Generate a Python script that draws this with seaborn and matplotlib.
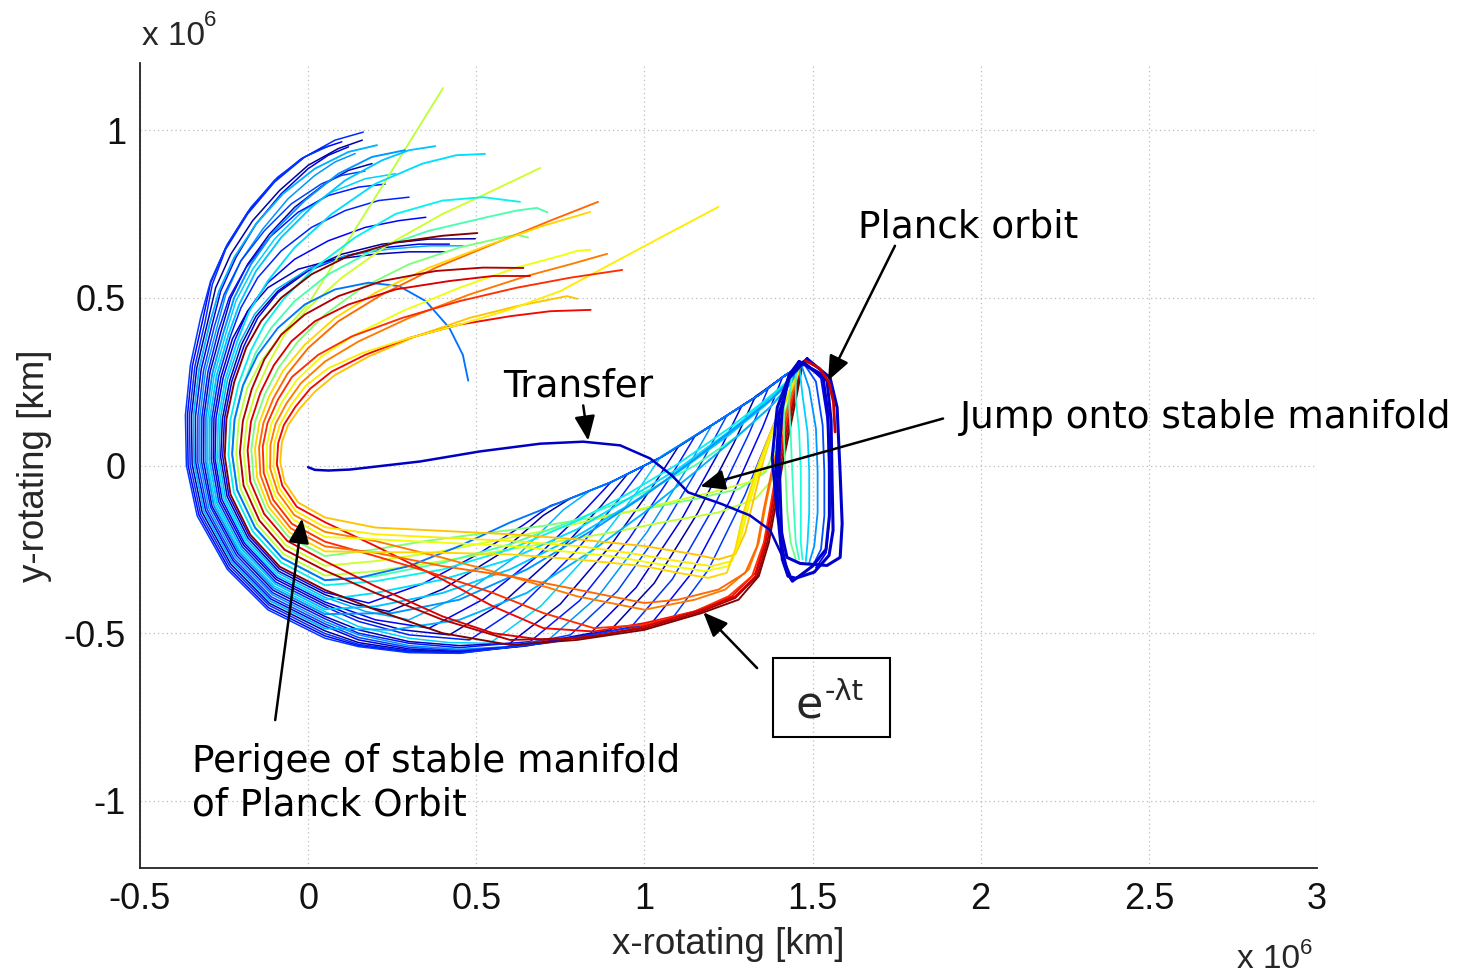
import matplotlib
matplotlib.use("Agg")
import matplotlib.pyplot as plt
from matplotlib.patches import Rectangle
import pandas as pd
import seaborn as sns

# ------------------------------------------------------------------
# Stable-manifold trajectories of the Planck orbit (rotating frame,
# coordinates in units of 10^6 km).  Each path runs from the orbit,
# along the manifold tube, around perigee and out to its final point.
# ------------------------------------------------------------------

# outer (blue) trajectories that cross the tube steeply
blue_k00 = [(1.47,0.30),(1.42,0.27),(1.34,0.21),(1.2,0.12),(1.05,0.025),(0.9,-0.05),(0.75,-0.11),(0.72,-0.12),(0.639,-0.178),(0.504,-0.265),(0.342,-0.352),(0.18,-0.41),(0.05,-0.378),(-0.086,-0.308),(-0.175,-0.211),(-0.236,-0.089),(-0.254,0.027),(-0.249,0.139),(-0.227,0.251),(-0.191,0.356),(-0.15,0.44),(-0.09,0.515),(0.0,0.58),(0.11,0.625),(0.23,0.65),(0.33,0.66),(0.42,0.66)]
blue_k01 = [(1.47,0.30),(1.42,0.27),(1.34,0.21),(1.2,0.12),(1.05,0.025),(0.9,-0.05),(0.78,-0.098),(0.699,-0.149),(0.564,-0.267),(0.402,-0.368),(0.24,-0.435),(0.14,-0.415),(0.05,-0.385),(-0.088,-0.315),(-0.179,-0.216),(-0.241,-0.092),(-0.26,0.025),(-0.255,0.139),(-0.233,0.253),(-0.198,0.361),(-0.155,0.445),(-0.09,0.52),(0.0,0.585),(0.10,0.63),(0.22,0.66),(0.36,0.675),(0.497,0.676)]
blue_k02 = [(1.47,0.30),(1.42,0.27),(1.34,0.21),(1.2,0.12),(1.05,0.025),(0.9,-0.05),(0.84,-0.074),(0.759,-0.132),(0.624,-0.267),(0.462,-0.383),(0.30,-0.46),(0.17,-0.435),(0.05,-0.393),(-0.089,-0.321),(-0.182,-0.222),(-0.246,-0.096),(-0.265,0.024),(-0.261,0.14),(-0.24,0.256),(-0.204,0.365),(-0.16,0.45),(-0.095,0.525),(0.0,0.585),(0.11,0.625),(0.24,0.645),(0.36,0.655),(0.46,0.655)]
blue_k03 = [(1.47,0.30),(1.42,0.27),(1.34,0.21),(1.2,0.12),(1.05,0.025),(0.90,-0.05),(0.819,-0.137),(0.684,-0.268),(0.522,-0.398),(0.36,-0.485),(0.2,-0.46),(0.05,-0.407),(-0.093,-0.334),(-0.189,-0.232),(-0.256,-0.102),(-0.277,0.021),(-0.274,0.141),(-0.253,0.261),(-0.218,0.374),(-0.18,0.46),(-0.12,0.545),(-0.04,0.615),(0.06,0.67),(0.17,0.71),(0.27,0.73),(0.35,0.74)]
blue_k04 = [(1.47,0.30),(1.42,0.27),(1.34,0.21),(1.2,0.12),(1.05,0.025),(0.95,-0.025),(0.871,-0.121),(0.738,-0.265),(0.579,-0.409),(0.42,-0.505),(0.28,-0.49),(0.15,-0.455),(0.05,-0.414),(-0.095,-0.34),(-0.192,-0.237),(-0.261,-0.105),(-0.282,0.02),(-0.28,0.142),(-0.259,0.264),(-0.225,0.378),(-0.18,0.46),(-0.12,0.53),(-0.03,0.585),(0.08,0.615),(0.20,0.63),(0.30,0.637),(0.407,0.637)]
blue_k05 = [(1.47,0.30),(1.42,0.27),(1.34,0.21),(1.2,0.12),(1.05,0.025),(1.0,0.0),(0.922,-0.104),(0.792,-0.26),(0.636,-0.416),(0.48,-0.52),(0.3,-0.505),(0.15,-0.465),(0.05,-0.421),(-0.097,-0.347),(-0.196,-0.242),(-0.266,-0.108),(-0.288,0.018),(-0.286,0.142),(-0.266,0.266),(-0.232,0.383),(-0.20,0.47),(-0.15,0.56),(-0.08,0.64),(0.01,0.71),(0.11,0.76),(0.21,0.79),(0.30,0.80)]
blue_k06 = [(1.47,0.30),(1.42,0.27),(1.34,0.21),(1.2,0.12),(1.05,0.028),(0.974,-0.084),(0.846,-0.251),(0.693,-0.418),(0.54,-0.53),(0.42,-0.528),(0.3,-0.515),(0.15,-0.48),(0.05,-0.436),(-0.10,-0.36),(-0.203,-0.253),(-0.276,-0.115),(-0.30,0.015),(-0.298,0.143),(-0.279,0.271),(-0.245,0.392),(-0.215,0.49),(-0.165,0.585),(-0.10,0.675),(-0.02,0.755),(0.07,0.815),(0.17,0.855),(0.26,0.87)]
blue_k07 = [(1.47,0.30),(1.42,0.27),(1.34,0.21),(1.2,0.12),(1.10,0.055),(1.025,-0.062),(0.90,-0.238),(0.75,-0.413),(0.60,-0.53),(0.45,-0.537),(0.3,-0.525),(0.15,-0.49),(0.05,-0.45),(-0.104,-0.372),(-0.209,-0.263),(-0.286,-0.121),(-0.311,0.013),(-0.31,0.145),(-0.292,0.277),(-0.259,0.40),(-0.23,0.50),(-0.18,0.60),(-0.115,0.69),(-0.04,0.77),(0.05,0.84),(0.12,0.88),(0.19,0.90)]
blue_k08 = [(1.47,0.30),(1.42,0.27),(1.34,0.21),(1.2,0.12),(1.15,0.087),(1.077,-0.035),(0.954,-0.219),(0.807,-0.403),(0.66,-0.525),(0.45,-0.543),(0.3,-0.53),(0.15,-0.50),(0.05,-0.457),(-0.106,-0.379),(-0.213,-0.268),(-0.29,-0.124),(-0.317,0.011),(-0.316,0.145),(-0.298,0.279),(-0.266,0.405),(-0.235,0.50),(-0.185,0.59),(-0.115,0.68),(-0.03,0.755),(0.06,0.805),(0.15,0.83),(0.229,0.839)]
blue_k09 = [(1.47,0.30),(1.42,0.27),(1.34,0.21),(1.20,0.12),(1.128,-0.007),(1.008,-0.198),(0.864,-0.388),(0.72,-0.515),(0.6,-0.54),(0.45,-0.548),(0.3,-0.537),(0.15,-0.505),(0.05,-0.465),(-0.107,-0.385),(-0.216,-0.274),(-0.295,-0.128),(-0.322,0.01),(-0.322,0.146),(-0.305,0.282),(-0.272,0.409),(-0.245,0.51),(-0.20,0.61),(-0.135,0.705),(-0.06,0.795),(0.02,0.865),(0.08,0.905),(0.14,0.93)]
blue_k10 = [(1.47,0.30),(1.42,0.27),(1.34,0.21),(1.245,0.149),(1.175,0.018),(1.059,-0.178),(0.92,-0.374),(0.78,-0.505),(0.6,-0.54),(0.45,-0.552),(0.3,-0.542),(0.15,-0.513),(0.05,-0.472),(-0.109,-0.392),(-0.22,-0.279),(-0.30,-0.131),(-0.328,0.008),(-0.328,0.146),(-0.311,0.284),(-0.279,0.414),(-0.25,0.51),(-0.20,0.61),(-0.13,0.70),(-0.05,0.78),(0.04,0.84),(0.10,0.865),(0.169,0.878)]
blue_k11 = [(1.47,0.30),(1.42,0.27),(1.34,0.21),(1.29,0.179),(1.223,0.043),(1.11,-0.161),(0.975,-0.364),(0.84,-0.50),(0.62,-0.54),(0.45,-0.555),(0.3,-0.547),(0.15,-0.52),(0.05,-0.479),(-0.111,-0.398),(-0.223,-0.284),(-0.305,-0.134),(-0.334,0.007),(-0.335,0.147),(-0.318,0.287),(-0.286,0.418),(-0.26,0.52),(-0.215,0.62),(-0.155,0.72),(-0.08,0.81),(0.0,0.885),(0.06,0.925),(0.12,0.95)]
blue_k12 = [(1.47,0.30),(1.42,0.27),(1.33,0.206),(1.266,0.067),(1.158,-0.142),(1.029,-0.351),(0.90,-0.49),(0.65,-0.538),(0.45,-0.557),(0.3,-0.551),(0.15,-0.528),(0.05,-0.493),(-0.115,-0.411),(-0.23,-0.294),(-0.315,-0.14),(-0.345,0.004),(-0.347,0.148),(-0.331,0.292),(-0.299,0.427),(-0.275,0.53),(-0.23,0.63),(-0.165,0.73),(-0.085,0.82),(0.0,0.895),(0.09,0.945),(0.161,0.97)]
blue_k13 = [(1.47,0.30),(1.42,0.27),(1.37,0.234),(1.309,0.091),(1.206,-0.124),(1.083,-0.339),(0.96,-0.482),(0.68,-0.532),(0.45,-0.558),(0.3,-0.553),(0.15,-0.533),(0.05,-0.501),(-0.116,-0.417),(-0.233,-0.30),(-0.32,-0.144),(-0.351,0.003),(-0.353,0.149),(-0.337,0.295),(-0.306,0.431),(-0.285,0.54),(-0.245,0.645),(-0.18,0.75),(-0.10,0.845),(-0.01,0.92),(0.08,0.97),(0.164,0.994)]
blue_k14 = [(1.47,0.30),(1.41,0.262),(1.352,0.115),(1.254,-0.105),(1.137,-0.325),(1.02,-0.472),(0.70,-0.53),(0.45,-0.559),(0.3,-0.556),(0.15,-0.537),(0.05,-0.508),(-0.118,-0.424),(-0.237,-0.305),(-0.325,-0.147),(-0.357,0.001),(-0.359,0.15),(-0.344,0.298),(-0.313,0.436),(-0.29,0.545),(-0.245,0.65),(-0.18,0.755),(-0.10,0.85),(-0.02,0.915),(0.04,0.945),(0.10,0.965)]
blue_k15 = [(1.47,0.30),(1.445,0.285),(1.39,0.136),(1.299,-0.088),(1.19,-0.311),(1.08,-0.46),(0.72,-0.528),(0.45,-0.56),(0.3,-0.558),(0.15,-0.54),(0.05,-0.515),(-0.12,-0.43),(-0.24,-0.31),(-0.33,-0.15),(-0.362,0.0),(-0.365,0.15),(-0.35,0.30),(-0.32,0.44),(-0.29,0.55),(-0.24,0.66),(-0.17,0.77),(-0.09,0.86),(-0.01,0.92),(0.06,0.952)]
blue_phase = [0.10, 0.03, 0.30, 0.12, 0.05, 0.16, 0.33, 0.05, 0.15, 0.27, 0.19, 0.08, 0.03, 0.17, 0.11, 0.18]

# cyan / green trajectories that climb towards the upper edge of the tube
cool_c08 = [(1.47,0.30),(1.43,0.20),(1.40,0.08),(1.36,-0.02),(1.28,-0.07),(1.15,-0.10),(1.0,-0.13),(0.85,-0.155),(0.7,-0.18),(0.5,-0.205),(0.35,-0.225),(0.2,-0.25),(0.05,-0.27),(-0.059,-0.212),(-0.124,-0.133),(-0.162,-0.041),(-0.169,0.048),(-0.158,0.13),(-0.129,0.212),(-0.089,0.29),(-0.03,0.37),(0.05,0.45),(0.16,0.53),(0.30,0.60),(0.45,0.65),(0.58,0.68),(0.62,0.688),(0.654,0.68)]
cool_c10 = [(1.47,0.30),(1.435,0.21),(1.41,0.10),(1.38,0.0),(1.31,-0.05),(1.2,-0.08),(1.05,-0.115),(0.9,-0.15),(0.75,-0.185),(0.55,-0.225),(0.4,-0.255),(0.2,-0.285),(0.05,-0.299),(-0.066,-0.238),(-0.138,-0.154),(-0.182,-0.054),(-0.192,0.042),(-0.182,0.132),(-0.155,0.222),(-0.116,0.308),(-0.07,0.39),(0.0,0.47),(0.10,0.56),(0.24,0.66),(0.40,0.75),(0.55,0.82),(0.69,0.887)]
cool_c12 = [(1.47,0.30),(1.44,0.21),(1.415,0.09),(1.39,-0.03),(1.33,-0.10),(1.22,-0.14),(1.05,-0.17),(0.9,-0.2),(0.75,-0.225),(0.6,-0.25),(0.4,-0.285),(0.2,-0.315),(0.05,-0.328),(-0.073,-0.264),(-0.152,-0.175),(-0.202,-0.067),(-0.214,0.036),(-0.206,0.134),(-0.181,0.232),(-0.14,0.31),(-0.08,0.39),(0.006,0.49),(0.2,0.80),(0.401,1.125)]
cool_c13 = [(1.47,0.30),(1.43,0.24),(1.37,0.17),(1.28,0.09),(1.15,0.0),(1.0,-0.08),(0.8,-0.16),(0.6,-0.235),(0.4,-0.29),(0.2,-0.33),(0.05,-0.342),(-0.077,-0.276),(-0.158,-0.185),(-0.211,-0.073),(-0.226,0.034),(-0.219,0.136),(-0.194,0.238),(-0.157,0.334),(-0.11,0.41),(-0.04,0.49),(0.06,0.57),(0.20,0.645),(0.36,0.70),(0.53,0.74),(0.62,0.76),(0.68,0.768),(0.711,0.755)]
cool_c14 = [(1.47,0.30),(1.43,0.255),(1.36,0.195),(1.25,0.11),(1.1,0.005),(0.95,-0.085),(0.8,-0.165),(0.6,-0.25),(0.4,-0.31),(0.2,-0.345),(0.05,-0.357),(-0.08,-0.289),(-0.165,-0.196),(-0.221,-0.08),(-0.237,0.031),(-0.231,0.137),(-0.207,0.243),(-0.17,0.343),(-0.13,0.42),(-0.07,0.50),(0.02,0.59),(0.14,0.68),(0.26,0.75),(0.40,0.79),(0.52,0.80),(0.63,0.786)]
cool_c17 = [(1.47,0.30),(1.43,0.25),(1.36,0.19),(1.25,0.10),(1.1,-0.01),(0.95,-0.10),(0.8,-0.19),(0.6,-0.28),(0.4,-0.34),(0.2,-0.38),(0.05,-0.40),(-0.091,-0.328),(-0.186,-0.227),(-0.251,-0.099),(-0.271,0.022),(-0.267,0.14),(-0.246,0.258),(-0.211,0.37),(-0.175,0.46),(-0.12,0.55),(-0.04,0.65),(0.07,0.75),(0.20,0.84),(0.34,0.90),(0.44,0.925),(0.526,0.929)]
cool_c19 = [(1.47,0.30),(1.43,0.245),(1.36,0.18),(1.25,0.09),(1.1,-0.02),(0.95,-0.12),(0.8,-0.21),(0.6,-0.31),(0.4,-0.38),(0.2,-0.42),(0.05,-0.429),(-0.098,-0.353),(-0.199,-0.248),(-0.271,-0.112),(-0.294,0.017),(-0.292,0.143),(-0.272,0.269),(-0.238,0.387),(-0.205,0.48),(-0.155,0.58),(-0.08,0.68),(0.01,0.77),(0.11,0.85),(0.22,0.91),(0.30,0.94),(0.378,0.952)]
cool_c20 = [(1.47,0.30),(1.44,0.26),(1.38,0.20),(1.28,0.12),(1.15,0.02),(1.0,-0.09),(0.85,-0.19),(0.65,-0.31),(0.45,-0.40),(0.25,-0.44),(0.05,-0.443),(-0.102,-0.366),(-0.206,-0.258),(-0.281,-0.118),(-0.305,0.014),(-0.304,0.144),(-0.285,0.274),(-0.252,0.396),(-0.22,0.50),(-0.17,0.60),(-0.10,0.70),(-0.01,0.79),(0.09,0.87),(0.19,0.92),(0.288,0.94)]
cool_c23 = [(1.47,0.30),(1.44,0.25),(1.38,0.18),(1.28,0.09),(1.15,-0.02),(1.0,-0.14),(0.85,-0.25),(0.65,-0.38),(0.45,-0.46),(0.25,-0.49),(0.05,-0.486),(-0.113,-0.404),(-0.226,-0.289),(-0.31,-0.137),(-0.339,0.006),(-0.341,0.148),(-0.324,0.29),(-0.293,0.422),(-0.265,0.52),(-0.22,0.62),(-0.155,0.72),(-0.075,0.81),(0.02,0.885),(0.12,0.935),(0.205,0.955)]
cool_arc = [(1.47,0.30),(1.42,0.27),(1.34,0.21),(1.2,0.12),(1.05,0.025),(0.9,-0.05),(0.75,-0.11),(0.6,-0.17),(0.45,-0.24),(0.3,-0.30),(0.15,-0.335),(0.05,-0.342),(-0.077,-0.276),(-0.158,-0.185),(-0.211,-0.073),(-0.226,0.034),(-0.219,0.136),(-0.194,0.238),(-0.15,0.33),(-0.09,0.41),(-0.01,0.48),(0.08,0.525),(0.18,0.545),(0.27,0.535),(0.35,0.49),(0.42,0.41),(0.46,0.33),(0.476,0.253)]
cool_phase = [0.50, 0.60, 0.58, 0.44, 0.36, 0.34, 0.32, 0.27, 0.30, 0.24]

# yellow / orange / red trajectories that drop to the lower edge of the tube
warm_w00 = [(1.47,0.30),(1.43,0.22),(1.39,0.13),(1.355,0.02),(1.325,-0.10),(1.30,-0.20),(1.27,-0.265),(1.22,-0.28),(1.15,-0.265),(1.0,-0.24),(0.8,-0.22),(0.6,-0.205),(0.4,-0.195),(0.2,-0.185),(0.05,-0.155),(-0.03,-0.11),(-0.07,-0.05),(-0.083,0.01),(-0.078,0.07),(-0.06,0.12),(-0.025,0.17),(0.02,0.22),(0.08,0.27),(0.18,0.325),(0.32,0.385),(0.48,0.44),(0.62,0.475),(0.72,0.495),(0.77,0.505),(0.80,0.497)]
warm_w01 = [(1.47,0.30),(1.445,0.22),(1.42,0.13),(1.40,0.02),(1.38,-0.10),(1.36,-0.22),(1.33,-0.32),(1.26,-0.39),(1.15,-0.435),(1.0,-0.47),(0.85,-0.495),(0.7,-0.485),(0.55,-0.42),(0.4,-0.34),(0.2,-0.24),(0.05,-0.169),(-0.034,-0.123),(-0.077,-0.06),(-0.093,0.004),(-0.089,0.067),(-0.072,0.121),(-0.038,0.175),(0.006,0.229),(0.07,0.28),(0.17,0.33),(0.30,0.38),(0.45,0.42),(0.60,0.445),(0.72,0.46),(0.84,0.464)]
warm_w02 = [(1.47,0.30),(1.43,0.22),(1.385,0.12),(1.345,0.0),(1.31,-0.12),(1.285,-0.22),(1.26,-0.285),(1.20,-0.30),(1.1,-0.285),(0.95,-0.26),(0.8,-0.24),(0.6,-0.225),(0.4,-0.215),(0.2,-0.205),(0.05,-0.184),(-0.037,-0.136),(-0.084,-0.071),(-0.103,-0.003),(-0.101,0.064),(-0.084,0.122),(-0.051,0.18),(-0.007,0.238),(0.06,0.29),(0.16,0.335),(0.30,0.38),(0.45,0.42),(0.60,0.465),(0.75,0.52),(1.0,0.654),(1.22,0.771)]
warm_w03 = [(1.47,0.30),(1.44,0.22),(1.41,0.12),(1.385,0.0),(1.36,-0.12),(1.34,-0.23),(1.31,-0.31),(1.24,-0.37),(1.15,-0.40),(1.0,-0.43),(0.8,-0.39),(0.6,-0.33),(0.4,-0.275),(0.2,-0.225),(0.05,-0.198),(-0.041,-0.148),(-0.09,-0.081),(-0.113,-0.009),(-0.112,0.062),(-0.097,0.124),(-0.064,0.186),(-0.021,0.246),(0.05,0.31),(0.15,0.37),(0.30,0.44),(0.48,0.51),(0.65,0.565),(0.78,0.60),(0.889,0.631)]
warm_w04 = [(1.47,0.30),(1.43,0.21),(1.38,0.10),(1.335,-0.02),(1.30,-0.14),(1.275,-0.24),(1.25,-0.30),(1.18,-0.315),(1.05,-0.295),(0.9,-0.27),(0.75,-0.255),(0.6,-0.24),(0.4,-0.23),(0.2,-0.22),(0.05,-0.213),(-0.044,-0.161),(-0.097,-0.092),(-0.123,-0.016),(-0.123,0.059),(-0.109,0.125),(-0.077,0.191),(-0.034,0.255),(0.04,0.325),(0.14,0.39),(0.28,0.46),(0.45,0.53),(0.62,0.59),(0.75,0.625),(0.80,0.64),(0.839,0.643)]
warm_w05 = [(1.47,0.30),(1.445,0.22),(1.42,0.12),(1.395,0.0),(1.375,-0.12),(1.355,-0.23),(1.32,-0.33),(1.25,-0.39),(1.15,-0.435),(1.0,-0.475),(0.85,-0.485),(0.7,-0.44),(0.55,-0.38),(0.4,-0.33),(0.2,-0.27),(0.05,-0.227),(-0.048,-0.174),(-0.104,-0.102),(-0.132,-0.022),(-0.135,0.056),(-0.121,0.126),(-0.09,0.196),(-0.048,0.264),(0.03,0.33),(0.13,0.385),(0.28,0.44),(0.45,0.49),(0.62,0.53),(0.78,0.56),(0.934,0.583)]
warm_w06 = [(1.47,0.30),(1.44,0.22),(1.41,0.11),(1.38,-0.01),(1.355,-0.13),(1.335,-0.24),(1.30,-0.32),(1.22,-0.37),(1.1,-0.40),(1.0,-0.41),(0.8,-0.37),(0.6,-0.33),(0.4,-0.30),(0.2,-0.26),(0.05,-0.241),(-0.052,-0.187),(-0.111,-0.112),(-0.142,-0.028),(-0.146,0.053),(-0.133,0.127),(-0.103,0.201),(-0.062,0.273),(0.0,0.35),(0.09,0.43),(0.22,0.51),(0.38,0.59),(0.55,0.66),(0.72,0.73),(0.862,0.786)]
warm_w07 = [(1.47,0.30),(1.43,0.21),(1.375,0.10),(1.33,-0.02),(1.295,-0.14),(1.27,-0.25),(1.245,-0.32),(1.19,-0.335),(1.1,-0.32),(1.0,-0.30),(0.8,-0.28),(0.6,-0.265),(0.4,-0.26),(0.2,-0.258),(0.05,-0.256),(-0.055,-0.20),(-0.118,-0.123),(-0.152,-0.035),(-0.158,0.05),(-0.145,0.128),(-0.116,0.206),(-0.075,0.282),(-0.01,0.36),(0.08,0.44),(0.20,0.515),(0.36,0.59),(0.53,0.655),(0.70,0.715),(0.839,0.756)]
warm_w09 = [(1.47,0.30),(1.45,0.22),(1.425,0.12),(1.40,0.0),(1.38,-0.12),(1.36,-0.23),(1.33,-0.33),(1.27,-0.39),(1.17,-0.43),(1.0,-0.48),(0.85,-0.51),(0.7,-0.52),(0.55,-0.50),(0.4,-0.45),(0.2,-0.36),(0.05,-0.285),(-0.062,-0.225),(-0.131,-0.144),(-0.172,-0.048),(-0.18,0.045),(-0.17,0.131),(-0.142,0.217),(-0.102,0.299),(-0.05,0.37),(0.02,0.43),(0.12,0.48),(0.26,0.525),(0.42,0.55),(0.55,0.565),(0.66,0.565)]
warm_w11 = [(1.47,0.30),(1.45,0.22),(1.43,0.12),(1.405,0.0),(1.385,-0.12),(1.365,-0.23),(1.335,-0.33),(1.27,-0.395),(1.17,-0.435),(1.0,-0.485),(0.8,-0.515),(0.6,-0.52),(0.4,-0.46),(0.2,-0.38),(0.05,-0.313),(-0.07,-0.251),(-0.145,-0.164),(-0.192,-0.06),(-0.203,0.039),(-0.194,0.133),(-0.168,0.227),(-0.13,0.317),(-0.08,0.39),(-0.01,0.45),(0.09,0.505),(0.22,0.55),(0.38,0.58),(0.52,0.59),(0.64,0.589)]
warm_w15 = [(1.47,0.30),(1.455,0.22),(1.435,0.12),(1.41,0.0),(1.39,-0.12),(1.37,-0.23),(1.34,-0.33),(1.28,-0.40),(1.17,-0.44),(1.0,-0.49),(0.8,-0.52),(0.6,-0.535),(0.4,-0.50),(0.2,-0.43),(0.05,-0.371),(-0.084,-0.302),(-0.172,-0.206),(-0.231,-0.086),(-0.248,0.028),(-0.243,0.138),(-0.22,0.248),(-0.184,0.352),(-0.14,0.43),(-0.08,0.50),(0.01,0.57),(0.12,0.625),(0.26,0.665),(0.40,0.685),(0.503,0.693)]
warm_phase = [0.70, 0.90, 0.66, 0.78, 0.64, 0.86, 0.80, 0.68, 0.92, 0.96, 1.00]

# trajectories leaving the orbit, seen inside the orbit outline
orbit_a1 = [(1.43,0.27),(1.415,0.18),(1.415,0.08),(1.42,-0.03),(1.425,-0.14),(1.435,-0.23),(1.45,-0.28)]
orbit_a2 = [(1.44,0.28),(1.43,0.19),(1.435,0.09),(1.44,-0.03),(1.445,-0.14),(1.45,-0.23),(1.46,-0.28)]
orbit_a3 = [(1.45,0.29),(1.45,0.20),(1.46,0.10),(1.465,-0.02),(1.465,-0.14),(1.465,-0.23),(1.47,-0.28)]
orbit_a4 = [(1.46,0.30),(1.47,0.21),(1.485,0.10),(1.49,-0.02),(1.49,-0.14),(1.485,-0.23),(1.48,-0.285)]
orbit_a5 = [(1.465,0.305),(1.49,0.23),(1.51,0.11),(1.515,-0.02),(1.515,-0.14),(1.505,-0.24),(1.49,-0.29)]
orbit_a6 = [(1.47,0.31),(1.51,0.25),(1.53,0.12),(1.535,-0.02),(1.535,-0.15),(1.525,-0.25),(1.50,-0.30)]
orbit_a7 = [(1.475,0.31),(1.525,0.26),(1.545,0.13),(1.55,-0.02),(1.55,-0.16),(1.54,-0.26),(1.51,-0.305)]
arc_phase = [0.48, 0.42, 0.38, 0.33, 0.27, 0.20, 0.12]

# Planck Lissajous orbit revolutions
orbit_loop_a = [(1.484,0.318),(1.552,0.262),(1.573,0.173),(1.582,-0.024),(1.588,-0.173),(1.582,-0.274),(1.543,-0.298),(1.463,-0.292),(1.424,-0.274),(1.395,-0.143),(1.380,0.024),(1.395,0.173),(1.433,0.274),(1.484,0.318)]
orbit_loop_b = [(1.472,0.306),(1.543,0.253),(1.555,0.134),(1.558,-0.045),(1.561,-0.193),(1.549,-0.268),(1.505,-0.318),(1.45,-0.336),(1.427,-0.33),(1.41,-0.28),(1.398,-0.16),(1.392,0.0),(1.40,0.15),(1.43,0.26),(1.472,0.306)]
orbit_loop_c = [(1.46,0.31),(1.53,0.27),(1.545,0.16),(1.55,0.0),(1.55,-0.15),(1.54,-0.25),(1.50,-0.30),(1.46,-0.33),(1.44,-0.345),(1.425,-0.32),(1.41,-0.25),(1.405,-0.12),(1.40,0.03),(1.41,0.17),(1.43,0.27),(1.46,0.31)]
orbit_red = [(1.478,0.313),(1.52,0.29),(1.548,0.25),(1.562,0.19),(1.567,0.10)]

# transfer trajectory from near Earth to the jump point
transfer_x = [0.0, 0.02, 0.06, 0.125, 0.333, 0.511, 0.69, 0.818, 0.928, 1.017, 1.082, 1.130, 1.225, 1.314, 1.374, 1.409, 1.433]
transfer_y = [-0.005, -0.013, -0.015, -0.012, 0.012, 0.042, 0.065, 0.071, 0.060, 0.021, -0.030, -0.080, -0.113, -0.149, -0.193, -0.268, -0.327]

# axes
x_ticks = [-0.5, 0, 0.5, 1, 1.5, 2, 2.5, 3]
x_tick_labels = ["-0.5", "0", "0.5", "1", "1.5", "2", "2.5", "3"]
y_ticks = [-1, -0.5, 0, 0.5, 1]
y_tick_labels = ["-1", "-0.5", "0", "0.5", "1"]

blue_paths = [blue_k00, blue_k01, blue_k02, blue_k03, blue_k04, blue_k05, blue_k06, blue_k07,
              blue_k08, blue_k09, blue_k10, blue_k11, blue_k12, blue_k13, blue_k14, blue_k15]
cool_paths = [cool_c08, cool_c10, cool_c12, cool_c13, cool_c14, cool_c17, cool_c19, cool_c20, cool_c23, cool_arc]
warm_paths = [warm_w00, warm_w01, warm_w02, warm_w03, warm_w04, warm_w05, warm_w06, warm_w07,
              warm_w09, warm_w11, warm_w15]
arc_paths = [orbit_a1, orbit_a2, orbit_a3, orbit_a4, orbit_a5, orbit_a6, orbit_a7]
loop_paths = [orbit_loop_a, orbit_loop_b, orbit_loop_c]

# ------------------------------------------------------------------
sns.set_style("white")
plt.rcParams["font.family"] = ["Liberation Sans", "DejaVu Sans"]
jet = plt.get_cmap("jet")

W, H = 1466, 973
fig = plt.figure(figsize=(W / 100, H / 100), dpi=100)
ax = fig.add_axes([140 / W, 1 - 868 / H, (1317 - 140) / W, (868 - 63) / H])


def paths_frame(paths, tag):
    rows = []
    for i, path in enumerate(paths):
        for j, (x, y) in enumerate(path):
            rows.append((f"{tag}{i:02d}", j, x, y))
    return pd.DataFrame(rows, columns=["traj", "step", "x", "y"])


def draw_family(paths, colors, tag, lw):
    df = paths_frame(paths, tag)
    pal = {f"{tag}{i:02d}": c for i, c in enumerate(colors)}
    sns.lineplot(data=df, x="x", y="y", hue="traj", palette=pal, sort=False,
                 estimator=None, legend=False, linewidth=lw, ax=ax)
    for line in ax.get_lines():
        line.set_solid_joinstyle("round")
        line.set_solid_capstyle("round")


draw_family(blue_paths, [jet(p) for p in blue_phase], "b", 1.1)
draw_family(cool_paths, [jet(p) for p in cool_phase], "c", 1.35)
draw_family(warm_paths, [jet(p) for p in warm_phase], "w", 1.35)
draw_family(arc_paths, [jet(p) for p in arc_phase], "a", 1.3)
draw_family(loop_paths, [jet(0.07)] * 3, "o", 2.2)
draw_family([orbit_red], [jet(0.93)], "r", 2.0)
sns.lineplot(x=transfer_x, y=transfer_y, sort=False, estimator=None,
             color=jet(0.06), linewidth=1.8, ax=ax)

# axes styling
ax.set_xlim(-0.5, 3)
ax.set_ylim(-1.2, 1.2)
ax.set_xticks(x_ticks)
ax.set_xticklabels(x_tick_labels)
ax.set_yticks(y_ticks)
ax.set_yticklabels(y_tick_labels)
ax.tick_params(direction="in", length=8.5, width=1.0, labelsize=26, pad=10,
               colors="#111111")
for side in ("top", "right"):
    ax.spines[side].set_visible(False)
for side in ("left", "bottom"):
    ax.spines[side].set_linewidth(1.3)
    ax.spines[side].set_color("#222222")
ax.grid(True, linestyle=(0, (1, 2.5)), color="#bdbdbd", linewidth=0.9)
ax.set_axisbelow(True)

ax.set_xlabel("x-rotating [km]", fontsize=26.5)
ax.set_ylabel("y-rotating [km]", fontsize=26.5)
ax.xaxis.set_label_coords(0.5, (868 - 945) / 805)
ax.xaxis.label.set_verticalalignment("center")
ax.yaxis.set_label_coords((35 - 140) / 1177, 0.5)
ax.yaxis.label.set_verticalalignment("center")

# axis multipliers
fig.text(142 / W, 1 - 45 / H, "x 10", fontsize=24, va="baseline", ha="left")
fig.text(204 / W, 1 - 26 / H, "6", fontsize=16, va="baseline", ha="left")
fig.text(1237 / W, 1 - 968 / H, "x 10", fontsize=24, va="baseline", ha="left")
fig.text(1300 / W, 1 - 954 / H, "6", fontsize=16, va="baseline", ha="left")

# annotations
arrow = dict(arrowstyle="-|>,head_length=0.6,head_width=0.25", color="black",
             lw=1.8, mutation_scale=25, shrinkA=0, shrinkB=0)
note_font = dict(family="DejaVu Sans", fontsize=26.9, color="black",
                 va="baseline", ha="left")

ax.annotate("", xy=(1.546, 0.253), xytext=(1.745, 0.655), arrowprops=arrow)
ax.text(1.635, 0.679, "Planck orbit", **note_font)

ax.annotate("", xy=(0.833, 0.074), xytext=(0.818, 0.179), arrowprops=arrow)
ax.text(0.580, 0.205, "Transfer", **note_font)

ax.annotate("", xy=(1.166, -0.0625), xytext=(1.888, 0.140), arrowprops=arrow)
ax.text(1.939, 0.113, "Jump onto stable manifold", **note_font)

ax.annotate("", xy=(1.175, -0.4375), xytext=(1.335, -0.604), arrowprops=arrow)
fig.patches.append(Rectangle((773 / W, 1 - 737 / H), 117 / W, 79 / H,
                             transform=fig.transFigure, fill=False,
                             edgecolor="black", linewidth=1.5))
ax.text(1.448, -0.753, "e", family="DejaVu Sans", fontsize=32,
        va="baseline", ha="left")
ax.text(1.537, -0.699, "-\u03bbt", family="DejaVu Sans", fontsize=21,
        va="baseline", ha="left")

ax.annotate("", xy=(-0.018, -0.158), xytext=(-0.098, -0.759), arrowprops=arrow)
ax.text(-0.345, -0.914, "Perigee of stable manifold", **note_font)
ax.text(-0.345, -1.042, "of Planck Orbit", **note_font)

fig.savefig("out.png", dpi=100)
